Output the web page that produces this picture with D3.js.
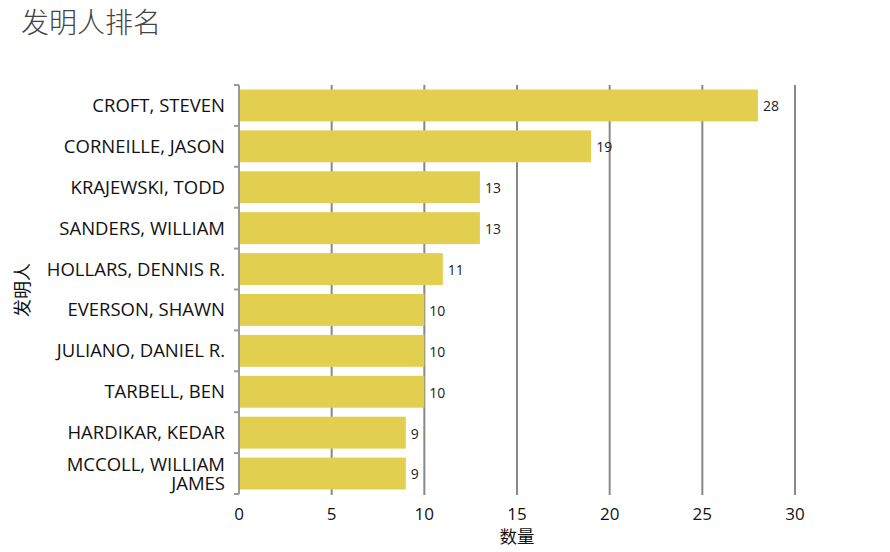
<!DOCTYPE html>
<html><head><meta charset="utf-8">
<script src="https://cdn.jsdelivr.net/npm/d3@7"></script>
<style>body{margin:0;background:#fff;} svg{display:block;}</style>
</head><body>
<svg id="chart" width="890" height="552"></svg>
<script>
const inventors = ["CROFT, STEVEN","CORNEILLE, JASON","KRAJEWSKI, TODD","SANDERS, WILLIAM","HOLLARS, DENNIS R.","EVERSON, SHAWN","JULIANO, DANIEL R.","TARBELL, BEN","HARDIKAR, KEDAR","MCCOLL, WILLIAM JAMES"];
const counts = [28,19,13,13,11,10,10,10,9,9];
const xTicks = [0,5,10,15,20,25,30];
const title = "发明人排名";
const xTitle = "数量";
const yTitle = "发明人";

const svg = d3.select("#chart");
const font = "'Open Sans','Noto Sans','Noto Sans CJK SC',sans-serif";
const m = {left:239, right:795, top:85, bottom:494};
const x = d3.scaleLinear().domain([0,30]).range([m.left, m.right]);
const y = d3.scaleBand().domain(inventors).range([m.top, m.bottom]).paddingInner(0.22).paddingOuter(0.11);

svg.append("text").attr("x",21).attr("y",33).attr("font-family","'Noto Sans CJK SC',sans-serif")
  .attr("font-size",28).attr("font-weight",300).attr("fill","#444").text(title);

// gridlines
svg.append("g").selectAll("line").data(xTicks.filter(d=>d>0)).join("line")
  .attr("x1",d=>x(d)).attr("x2",d=>x(d)).attr("y1",m.top).attr("y2",m.bottom+1)
  .attr("stroke","#888").attr("stroke-width",2);

// bars
svg.append("g").selectAll("rect").data(counts).join("rect")
  .attr("x",x(0)+1).attr("y",(d,i)=>y(inventors[i]))
  .attr("width",d=>x(d)-x(0)-1).attr("height",y.bandwidth())
  .attr("fill","#E3CF4F");

// value labels
svg.append("g").selectAll("text").data(counts).join("text")
  .attr("x",d=>x(d)+5).attr("y",(d,i)=>y(inventors[i])+y.bandwidth()/2+1)
  .attr("dy","0.35em").attr("font-family",font).attr("font-size",14).attr("fill","#222").text(d=>d);

// y axis line with boundary ticks
const ya = svg.append("g");
ya.append("line").attr("x1",m.left).attr("x2",m.left).attr("y1",m.top).attr("y2",m.bottom).attr("stroke","#999").attr("stroke-width",2);
const step = (m.bottom-m.top)/inventors.length;
ya.selectAll("line.t").data(d3.range(inventors.length+1)).join("line").attr("class","t")
  .attr("x1",m.left-5).attr("x2",m.left).attr("y1",i=>m.top+i*step).attr("y2",i=>m.top+i*step)
  .attr("stroke","#999").attr("stroke-width",2);

// category labels (wrapped when long)
const labG = svg.append("g");
inventors.forEach(d=>{
  const cy = y(d)+y.bandwidth()/2;
  const lines = d === "MCCOLL, WILLIAM JAMES" ? ["MCCOLL, WILLIAM","JAMES"] : [d];
  lines.forEach((ln,j)=>{
    const off = lines.length===1 ? 0 : (j===0 ? -9 : 10);
    labG.append("text").attr("x",225).attr("y",cy+off).attr("dy","0.35em")
      .attr("text-anchor","end").attr("font-family",font).attr("font-size",18.5).attr("fill","#111").text(ln);
  });
});

// x tick labels
svg.append("g").selectAll("text").data(xTicks).join("text")
  .attr("x",d=>x(d)).attr("y",520).attr("text-anchor","middle")
  .attr("font-family",font).attr("font-size",17).attr("fill","#111").text(d=>d);

svg.append("text").attr("x",517).attr("y",543).attr("text-anchor","middle")
  .attr("font-family","'Noto Sans CJK SC',sans-serif").attr("font-size",17.5).attr("fill","#111").text(xTitle);
svg.append("text").attr("transform","translate(29,290) rotate(-90)").attr("text-anchor","middle")
  .attr("font-family","'Noto Sans CJK SC',sans-serif").attr("font-size",18).attr("fill","#111").text(yTitle);
</script>
</body></html>
